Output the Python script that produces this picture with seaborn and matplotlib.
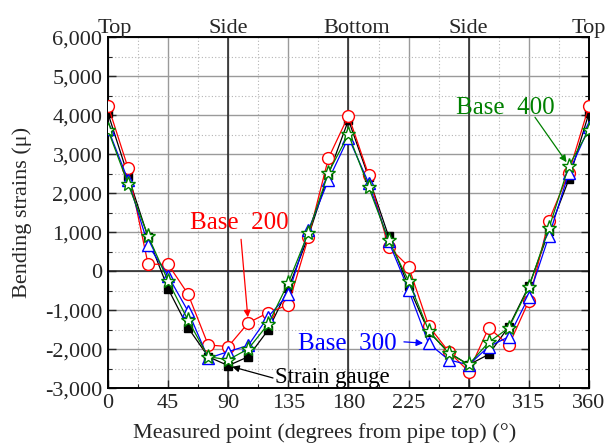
import matplotlib
matplotlib.use("Agg")
import matplotlib.pyplot as plt
import matplotlib.transforms as mtransforms
from matplotlib.ticker import MultipleLocator, FuncFormatter
import seaborn as sns

# Measurement positions around the pipe circumference (degrees from top)
angles = [0, 15, 30, 45, 60, 75, 90, 105, 120, 135, 150, 165, 180,
          195, 210, 225, 240, 255, 270, 285, 300, 315, 330, 345, 360]

# Bending strains (micro-strain)
strain_gauge = [4050, 2450, 870, -450, -1450, -2190, -2420, -2190, -1500, -440,
                900, 2480, 3880, 2420, 900, -390, -1550, -2080, -2400, -2130,
                -1420, -380, 1020, 2360, 4060]
base_200 = [4250, 2650, 180, 180, -590, -1890, -1930, -1320, -1060, -860,
            870, 2900, 3990, 2480, 630, 120, -1400, -2060, -2570, -1445,
            -1900, -760, 1300, 2530, 4240]
base_300 = [3650, 2340, 680, -120, -1030, -2230, -2060, -1900, -1160, -590,
            1060, 2340, 3430, 2270, 770, -480, -1850, -2270, -2400, -1930,
            -1680, -650, 900, 2530, 3690]
base_400 = [3620, 2240, 910, -250, -1260, -2190, -2270, -1990, -1350, -290,
            990, 2530, 3510, 2170, 800, -250, -1520, -2100, -2390, -1820,
            -1450, -410, 1100, 2710, 3620]

position_labels = ["Top", "Side", "Bottom", "Side", "Top"]
position_angles = [0, 90, 180, 270, 360]

sns.set_style("white")
plt.rcParams["font.family"] = ["Liberation Serif", "DejaVu Serif"]

fig = plt.figure(figsize=(6.06, 4.48), dpi=100)
ax = fig.add_axes([0.1782, 0.1333, 0.7937, 0.7835])

ax.set_xlim(0, 360)
ax.set_ylim(-3000, 6000)
ax.xaxis.set_major_locator(MultipleLocator(45))
ax.xaxis.set_minor_locator(MultipleLocator(22.5))
ax.yaxis.set_major_locator(MultipleLocator(1000))
ax.yaxis.set_minor_locator(MultipleLocator(500))
ax.yaxis.set_major_formatter(FuncFormatter(lambda v, _: f"{int(round(v)):,}"))

# Grid: solid major lines, dotted minor lines, dark reference lines
ax.set_axisbelow(True)
ax.grid(which="major", color="#9a9a9a", lw=1.0)
ax.grid(which="minor", color="#b4b4b4", lw=0.8, ls=(0, (1, 2)))
for a in position_angles[1:-1]:
    ax.axvline(a, color="#202020", lw=1.1, zorder=1)
ax.axhline(0, color="#202020", lw=1.1, zorder=1)

ax.tick_params(which="both", direction="in", left=True, right=True,
               bottom=True, top=False, labelsize=16, pad=4)
ax.tick_params(which="major", length=6, width=1.0)
ax.tick_params(which="minor", length=3, width=0.8)
for sp in ax.spines.values():
    sp.set_color("black")
    sp.set_linewidth(1.4)

series = [
    (strain_gauge, "black", "s", "black", 6),
    (base_200, "red", "o", "white", 8.5),
    (base_300, "blue", "^", "white", 9),
    (base_400, "green", "*", "white", 11),
]
for vals, c, m, fc, ms in series:
    sns.lineplot(x=angles, y=vals, ax=ax, color=c, marker=m, markersize=ms,
                 markerfacecolor=fc, markeredgecolor=c, markeredgewidth=1.0,
                 linewidth=0.9, legend=False, zorder=3)

ax.set_xlabel("Measured point (degrees from pipe top) (°)", fontsize=16)
ax.set_ylabel("Bending strains (μ)", fontsize=16)
ax.xaxis.set_label_coords(0.45, -0.098)
ax.yaxis.set_label_coords(-0.158, 0.5)

# Circumferential position names above the plot
trans = mtransforms.blended_transform_factory(ax.transData, ax.transAxes)
label_x = [5, 90, 186, 270, 360]
for name, x in zip(position_labels, label_x):
    ax.text(x, 1.011, name, transform=trans, ha="center", va="baseline",
            fontsize=16)

# Series annotations with arrows
def note(text, color, xy_text, tail, idx, vals, size=18, shrink=4):
    ax.text(xy_text[0], xy_text[1], text, color=color, fontsize=size,
            ha="left", va="baseline", zorder=5)
    ax.annotate("", xy=(angles[idx], vals[idx]), xytext=tail,
                arrowprops=dict(arrowstyle="-|>", color=color, lw=0.9,
                                mutation_scale=10, shrinkA=0, shrinkB=shrink),
                zorder=5)

note("Base  200", "red", (61.4, 1085), (99.6, 820), 7, base_200)
note("Base  300", "blue", (142.2, -2018), (221.5, -1810), 16, base_300)
note("Base  400", "green", (260.5, 4033), (319.6, 3949), 23, base_400, shrink=3)
note("Strain gauge", "black", (125, -2872), (123.5, -2736), 6, strain_gauge,
     size=16.5, shrink=3)

fig.savefig("out.png", dpi=100)
